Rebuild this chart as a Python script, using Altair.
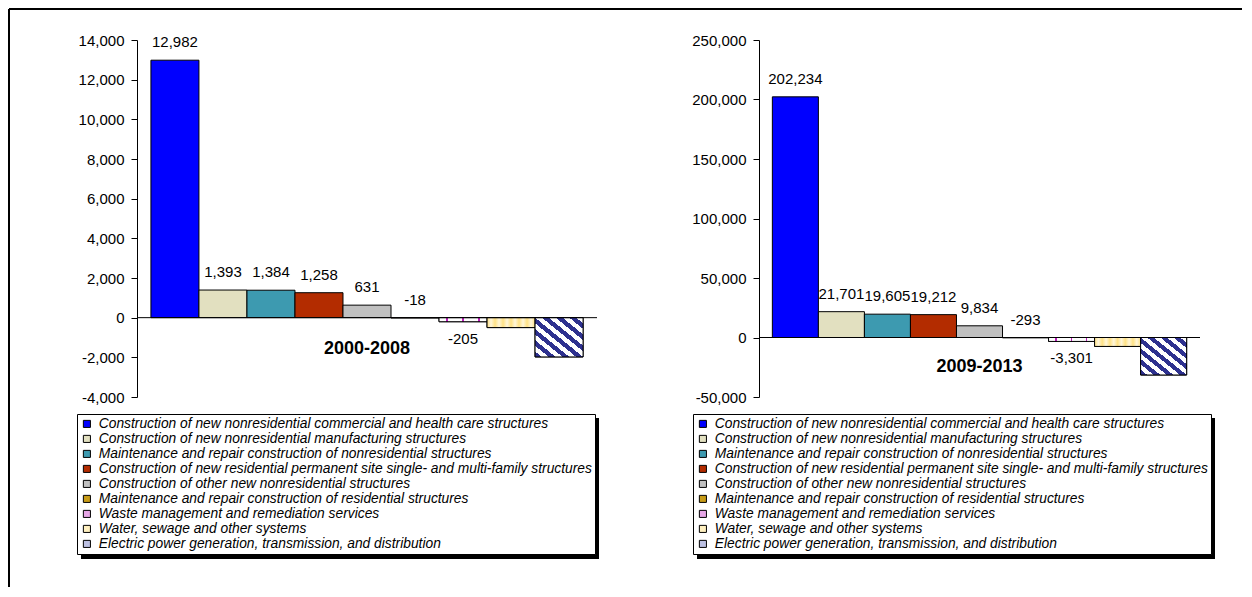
import altair as alt
import pandas as pd

# ---------------- data ----------------
categories = [
    "Construction of new nonresidential commercial and health care structures",
    "Construction of new nonresidential manufacturing structures",
    "Maintenance and repair construction of nonresidential structures",
    "Construction of new residential permanent site single- and multi-family structures",
    "Construction of other new nonresidential structures",
    "Maintenance and repair construction of residential structures",
    "Waste management and remediation services",
    "Water, sewage and other systems",
    "Electric power generation, transmission, and distribution",
]
values_2000_2008 = [12982, 1393, 1384, 1258, 631, -18, -205, -500, -1980]
values_2009_2013 = [202234, 21701, 19605, 19212, 9834, -293, -3301, -7500, -31500]
show_label = [True, True, True, True, True, True, True, False, False]
periods = ["2000-2008", "2009-2013"]
period_label_values = [-1600, -25000]
y_ticks_left = [-4000, -2000, 0, 2000, 4000, 6000, 8000, 10000, 12000, 14000]
y_ticks_right = [-50000, 0, 50000, 100000, 150000, 200000, 250000]

colors = ["#0000FF", "#E2E0C0", "#3D9AB0", "#B32C00", "#C0C0C0",
          "#C89C18", "#E6A6E6", "#FFF0C0", "#BCC0E2"]

FONT = "Liberation Sans"


def stripes(n, c1, c2, x1, y1, x2, y2, frac=0.5):
    stops = []
    for k in range(n):
        a = k / n
        b = (k + frac) / n
        c = (k + 1) / n
        stops += [{"offset": a, "color": c1}, {"offset": b, "color": c1},
                  {"offset": b, "color": c2}, {"offset": c, "color": c2}]
    return {"gradient": "linear", "x1": x1, "y1": y1, "x2": x2, "y2": y2, "stops": stops}


def ticks_gradient():
    stops = [{"offset": 0, "color": "#FFFFFF"}]
    for p in [0.15, 0.48, 0.81]:
        stops += [{"offset": p, "color": "#FFFFFF"}, {"offset": p, "color": "#C020C0"},
                  {"offset": p + 0.035, "color": "#C020C0"}, {"offset": p + 0.035, "color": "#FFFFFF"}]
    stops.append({"offset": 1, "color": "#FFFFFF"})
    return {"gradient": "linear", "x1": 0, "y1": 0, "x2": 1, "y2": 0, "stops": stops}


def water_gradient():
    stops = []
    n = 6
    for k in range(n + 1):
        stops.append({"offset": k / n, "color": "#FFE285"})
        if k < n:
            stops.append({"offset": (k + 0.5) / n, "color": "#FFF6DA"})
    return {"gradient": "linear", "x1": 0, "y1": 0, "x2": 1, "y2": 0, "stops": stops}


pattern_fills = {
    categories[6]: ticks_gradient(),
    categories[7]: water_gradient(),
    categories[8]: stripes(7, "#2E318F", "#FFFFFF", 0, 1, 1, 0),
}

LEG_W, LEG_H = 518, 141


def panel(values, period, period_y, ticks, width, height, legend_x, legend_y, frame=False):
    df = pd.DataFrame({"category": categories, "value": values, "show": show_label})
    thr = -0.005 * max(values)
    df["above"] = df["value"] > thr

    yscale = alt.Scale(domain=[ticks[0], ticks[-1]], nice=False, zero=False)
    xscale = alt.Scale(domain=categories, paddingInner=0, paddingOuter=0.29)
    x = alt.X("category:N", scale=xscale, axis=None, sort=categories)
    y = alt.Y("value:Q", scale=yscale, title=None,
              axis=alt.Axis(values=ticks, format=",.0f", grid=False, domainColor="black",
                            tickColor="black", tickSize=6, labelFontSize=15, labelFont=FONT,
                            labelColor="black", labelPadding=7, domainWidth=1, tickWidth=1))

    base = alt.Chart(df)
    layers = []

    bars = base.mark_bar(stroke="black", strokeWidth=1).encode(
        x=x, y=y,
        color=alt.Color("category:N", scale=alt.Scale(domain=categories, range=colors),
                        legend=alt.Legend(orient="none", legendX=legend_x, legendY=legend_y,
                                          direction="vertical", title=None, symbolType="square",
                                          symbolSize=50, symbolStrokeColor="black",
                                          symbolStrokeWidth=1, symbolOpacity=1,
                                          labelFont=FONT, labelFontStyle="italic",
                                          labelFontSize=13.8, labelColor="black", labelLimit=800,
                                          rowPadding=0, padding=3, labelOffset=5,
                                          strokeColor="black", fillColor="white")))
    layers.append(bars)

    for cat, grad in pattern_fills.items():
        layers.append(base.transform_filter(alt.datum.category == cat)
                      .mark_bar(fill=grad, stroke="black", strokeWidth=1)
                      .encode(x=x, y=y))

    zero = alt.Chart(pd.DataFrame({"value": [0]})).mark_rule(color="black", strokeWidth=1).encode(y=y)
    layers.append(zero)

    lab_above = base.transform_filter("datum.show && datum.above").mark_text(
        baseline="alphabetic", dy=-13, fontSize=15, font=FONT, color="black").encode(
        x=x, y=y, text=alt.Text("value:Q", format=","))
    lab_below = base.transform_filter("datum.show && !datum.above").mark_text(
        baseline="alphabetic", dy=22, fontSize=15, font=FONT, color="black").encode(
        x=x, y=y, text=alt.Text("value:Q", format=","))
    layers += [lab_above, lab_below]

    pdf = pd.DataFrame({"category": [categories[4]], "value": [period_y], "text": [period]})
    plab = alt.Chart(pdf).mark_text(fontWeight="bold", fontSize=18, font=FONT, color="black",
                                    baseline="middle").encode(x=x, y=y, text="text:N")
    layers.append(plab)

    # legend shadow (decoration behind the legend box)
    shadow = alt.Chart(pd.DataFrame({"a": [0]})).mark_rect(color="black").encode(
        x=alt.value(legend_x + 4), x2=alt.value(legend_x + LEG_W + 4),
        y=alt.value(legend_y + 4), y2=alt.value(legend_y + LEG_H + 4))
    layers.append(shadow)

    if frame:
        one = alt.Chart(pd.DataFrame({"a": [0]}))
        layers.append(one.mark_rule(color="black", strokeWidth=2).encode(
            x=alt.value(-128), x2=alt.value(1105), y=alt.value(-31)))
        layers.append(one.mark_rule(color="black", strokeWidth=2).encode(
            x=alt.value(-128), y=alt.value(-31), y2=alt.value(547)))

    return alt.layer(*layers).properties(width=width, height=height)


left = panel(values_2000_2008, periods[0], period_label_values[0], y_ticks_left,
             460, 357, -60, 374, frame=True)
right = panel(values_2009_2013, periods[1], period_label_values[1], y_ticks_right,
              441, 357, -66, 374)

chart = alt.hconcat(left, right, spacing=162, bounds="flush").resolve_scale(
    color="independent", y="independent", x="independent").resolve_legend(
    color="independent").properties(padding=0).configure(
    locale={"number": {"decimal": ".", "thousands": ",", "grouping": [3],
                       "currency": ["$", ""], "minus": "-"}}).configure_view(strokeWidth=0)

chart.save("out.html", embed_options={"renderer": "svg", "actions": False})
